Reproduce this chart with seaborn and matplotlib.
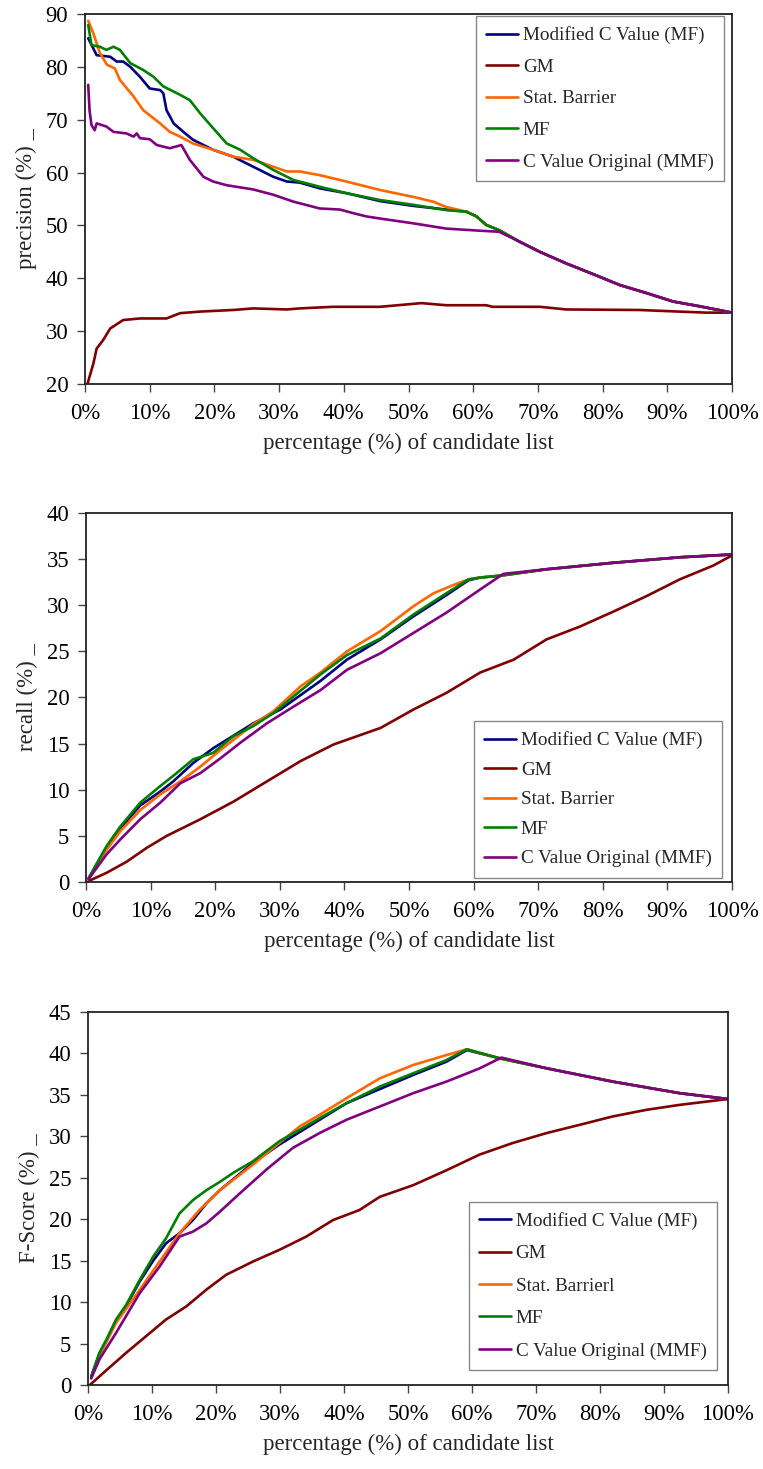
import seaborn as sns
import matplotlib.pyplot as plt
import matplotlib.ticker as mticker

# ---- data (x = % of candidate list) ----
names = ['Modified C Value (MF)', 'GM', 'Stat. Barrier', 'MF', 'C Value Original (MMF)']
colors = ['#000080', '#800000', '#FF6600', '#008000', '#800080']

# tail shared by all curves except GM after ~64% (precision)
p_tail_x = [67.2, 70.3, 74.4, 78.5, 82.7, 86.8, 90.9, 95.0, 100]
p_tail_y = [46.9, 45.0, 42.8, 40.8, 38.7, 37.2, 35.6, 34.7, 33.5]

prec_mcv_x = [0.5, 1.8, 3.9, 4.9, 5.9, 7.0, 8.5, 10.0, 11.6, 12.1, 12.6, 13.7, 15.2, 16.7, 19.8,
              22.9, 26.0, 29.1, 31.2, 33.2, 36.3, 40.4, 45.6, 50.7, 55.8, 59.0, 60.5, 62.0, 64.0] + p_tail_x
prec_mcv_y = [85.4, 82.2, 81.9, 81.0, 81.0, 80.0, 78.1, 75.9, 75.6, 75.0, 71.8, 69.3, 67.7, 66.2, 64.3,
              63.0, 61.1, 59.2, 58.3, 58.1, 57.0, 56.1, 54.6, 53.7, 53.0, 52.6, 51.7, 50.1, 49.1] + p_tail_y
prec_gm_x = [0.4, 1.3, 1.8, 2.8, 3.9, 5.9, 8.5, 12.6, 14.7, 17.8, 22.9, 26.0, 31.2, 33.2, 38.3, 45.6,
             52.0, 55.8, 62.0, 63.0, 70.3, 74.4, 85.7, 91.8, 96.0, 100]
prec_gm_y = [20.1, 23.9, 26.7, 28.3, 30.5, 32.1, 32.4, 32.4, 33.4, 33.7, 34.0, 34.3, 34.1, 34.3, 34.6, 34.6,
             35.3, 34.9, 34.9, 34.6, 34.6, 34.1, 34.0, 33.7, 33.5, 33.5]
prec_sb_x = [0.5, 1.3, 2.3, 3.4, 4.6, 5.4, 7.5, 9.0, 11.6, 13.1, 14.7, 16.7, 19.8, 22.9, 26.0, 29.1,
             31.2, 33.2, 36.3, 40.4, 45.6, 50.7, 53.8, 55.8, 58.9, 60.5, 62.0, 64.0] + p_tail_x
prec_sb_y = [88.7, 86.3, 82.6, 80.4, 79.7, 77.5, 74.4, 71.8, 69.3, 67.7, 66.8, 65.5, 64.3, 63.0, 62.4, 61.1,
             60.2, 60.2, 59.5, 58.3, 56.7, 55.4, 54.5, 53.5, 52.6, 51.7, 50.1, 49.1] + p_tail_y
prec_mf_x = [0.5, 1.0, 2.3, 3.3, 4.4, 5.4, 7.0, 9.0, 10.6, 12.1, 14.7, 16.2, 17.8, 19.8, 21.9, 24.0,
             26.0, 29.1, 32.2, 36.3, 40.4, 45.6, 50.7, 55.8, 58.9, 60.5, 62.0, 64.0] + p_tail_x
prec_mf_y = [87.9, 84.1, 83.8, 83.2, 83.8, 83.2, 80.7, 79.4, 78.1, 76.3, 74.7, 73.7, 71.2, 68.4, 65.5, 64.3,
             62.7, 60.5, 58.6, 57.3, 56.1, 54.8, 53.9, 52.9, 52.6, 51.7, 50.1, 49.1] + p_tail_y
prec_cvo_x = [0.5, 0.7, 1.0, 1.5, 1.8, 3.3, 4.4, 6.4, 7.5, 8.0, 8.5, 10.0, 11.1, 13.1, 14.9, 16.2, 18.3,
              19.8, 21.9, 26.0, 29.1, 32.2, 36.3, 39.4, 41.5, 43.5, 45.6, 50.7, 55.8, 61.0, 64.0] + p_tail_x
prec_cvo_y = [76.6, 71.8, 69.0, 68.0, 69.3, 68.7, 67.7, 67.4, 66.8, 67.4, 66.5, 66.3, 65.2, 64.6, 65.2, 62.4, 59.2,
              58.3, 57.6, 56.8, 55.8, 54.5, 53.2, 53.0, 52.3, 51.7, 51.3, 50.4, 49.4, 49.0, 48.8] + p_tail_y

# recall
r_tail_x = [71.3, 81.6, 92.0, 100]
r_tail_y = [33.9, 34.6, 35.2, 35.5]
rec_mcv_x = [0.4, 1.1, 3.2, 5.3, 8.4, 11.5, 13.5, 16.6, 19.7, 25.9, 30.1, 36.3, 40.4, 45.6, 50.7, 55.8,
             59.2, 61.0, 64.1] + r_tail_x
rec_mcv_y = [0.4, 1.2, 3.8, 5.8, 8.3, 9.8, 10.9, 12.9, 14.5, 17.2, 18.7, 21.8, 24.1, 26.3, 28.8, 31.1,
             32.7, 33.0, 33.2] + r_tail_y
rec_gm_x = [0.4, 3.2, 6.3, 9.4, 12.5, 17.7, 22.8, 28.0, 33.2, 38.3, 45.6, 50.7, 55.8, 61.0, 66.2, 71.3,
            76.5, 81.6, 86.8, 91.9, 97.1, 100]
rec_gm_y = [0.1, 1.0, 2.2, 3.7, 5.0, 6.8, 8.7, 10.9, 13.1, 14.9, 16.7, 18.7, 20.5, 22.7, 24.1, 26.3,
            27.7, 29.3, 31.0, 32.8, 34.3, 35.4]
rec_sb_x = [0.4, 1.1, 3.2, 5.3, 8.4, 11.5, 14.6, 17.7, 20.8, 25.9, 29.0, 33.2, 36.3, 40.4, 45.6, 50.7,
            53.8, 56.9, 59.2, 61.0, 64.1] + r_tail_x
rec_sb_y = [0.3, 1.1, 3.5, 5.5, 7.8, 9.5, 10.9, 12.5, 14.3, 17.1, 18.5, 21.2, 22.7, 25.0, 27.2, 29.9,
            31.3, 32.2, 32.8, 33.0, 33.2] + r_tail_y
rec_mf_x = [0.4, 1.1, 3.2, 5.3, 8.4, 11.5, 13.5, 16.6, 19.7, 22.8, 25.9, 29.0, 32.1, 36.3, 40.4, 45.6,
            50.7, 55.8, 59.2, 61.0, 64.1] + r_tail_x
rec_mf_y = [0.4, 1.3, 3.9, 6.0, 8.6, 10.4, 11.5, 13.3, 14.0, 15.8, 16.9, 18.3, 20.1, 22.5, 24.6, 26.4,
            29.0, 31.3, 32.8, 33.0, 33.2] + r_tail_y
rec_cvo_x = [0.4, 1.1, 3.2, 5.3, 8.4, 11.5, 14.6, 17.7, 20.8, 23.9, 28.0, 32.1, 36.3, 40.4, 45.6, 50.7,
             55.8, 61.0, 64.6] + r_tail_x
rec_cvo_y = [0.3, 1.0, 3.0, 4.6, 6.8, 8.6, 10.7, 11.8, 13.4, 15.1, 17.2, 19.0, 20.8, 23.0, 24.8, 27.0,
             29.2, 31.7, 33.4] + r_tail_y

# F-score
f_tail_x = [71.7, 82.0, 92.5, 100]
f_tail_y = [38.2, 36.6, 35.2, 34.5]
f_mcv_x = [0.5, 1.8, 2.9, 4.4, 6.0, 8.1, 10.2, 12.2, 14.3, 16.4, 18.5, 20.6, 25.8, 29.9, 36.2, 40.4,
           45.6, 50.8, 56.0, 59.2, 64.4] + f_tail_x
f_mcv_y = [1.0, 3.8, 5.4, 7.8, 9.6, 12.5, 15.0, 17.1, 18.3, 19.9, 21.9, 23.5, 26.8, 29.0, 32.0, 34.0,
           35.7, 37.4, 39.0, 40.4, 39.4] + f_tail_y
f_gm_x = [0.3, 2.9, 6.0, 9.1, 12.2, 15.4, 18.5, 21.6, 25.8, 29.9, 34.1, 38.3, 42.4, 45.6, 50.8, 56.0,
          61.2, 66.4, 71.7, 76.9, 82.0, 87.3, 92.5, 100]
f_gm_y = [0.0, 1.8, 3.9, 5.9, 7.9, 9.5, 11.5, 13.3, 14.9, 16.3, 17.9, 19.9, 21.1, 22.7, 24.1, 25.9,
          27.8, 29.2, 30.4, 31.4, 32.4, 33.2, 33.8, 34.5]
f_sb_x = [0.5, 1.8, 4.4, 8.1, 11.2, 14.3, 17.4, 20.6, 25.8, 29.9, 33.1, 36.2, 40.4, 45.6, 50.8, 56.0,
          59.2, 64.4] + f_tail_x
f_sb_y = [0.8, 3.5, 7.5, 11.5, 14.9, 18.3, 21.1, 23.5, 26.6, 29.2, 31.2, 32.6, 34.6, 37.0, 38.6, 39.8,
          40.5, 39.4] + f_tail_y
f_mf_x = [0.5, 1.8, 2.9, 4.4, 6.0, 8.1, 10.2, 12.2, 14.3, 16.4, 18.5, 20.6, 22.7, 25.8, 29.9, 33.1,
          36.2, 40.4, 45.6, 50.8, 56.0, 59.2, 64.4] + f_tail_x
f_mf_y = [1.0, 3.9, 5.5, 7.9, 9.7, 12.7, 15.5, 17.7, 20.7, 22.3, 23.5, 24.5, 25.6, 27.0, 29.4, 30.8,
          32.2, 34.0, 36.0, 37.6, 39.2, 40.5, 39.4] + f_tail_y
f_cvo_x = [0.5, 1.8, 4.4, 8.1, 11.2, 14.3, 16.4, 18.5, 20.6, 23.7, 27.9, 32.0, 36.2, 40.4, 45.6, 50.8,
           56.0, 61.2, 64.6] + f_tail_x
f_cvo_y = [0.8, 3.1, 6.3, 11.1, 14.3, 17.9, 18.5, 19.5, 20.9, 23.1, 26.0, 28.6, 30.4, 32.0, 33.6, 35.2,
           36.6, 38.2, 39.5] + f_tail_y

panels = [
    dict(series=[(prec_mcv_x, prec_mcv_y), (prec_gm_x, prec_gm_y), (prec_sb_x, prec_sb_y),
                 (prec_mf_x, prec_mf_y), (prec_cvo_x, prec_cvo_y)],
         labels=names, ylabel='precision (%) _', ylim=(20, 90), ystep=10,
         rect=[0.1114, 0.7386, 0.848, 0.2519], loc='upper right', anchor=(0.988, 0.995), lsp=0.74),
    dict(series=[(rec_mcv_x, rec_mcv_y), (rec_gm_x, rec_gm_y), (rec_sb_x, rec_sb_y),
                 (rec_mf_x, rec_mf_y), (rec_cvo_x, rec_cvo_y)],
         labels=names, ylabel='recall (%) _', ylim=(0, 40), ystep=5,
         rect=[0.1127, 0.3996, 0.8467, 0.2512], loc='lower right', anchor=(0.985, 0.011), lsp=0.63),
    dict(series=[(f_mcv_x, f_mcv_y), (f_gm_x, f_gm_y), (f_sb_x, f_sb_y),
                 (f_mf_x, f_mf_y), (f_cvo_x, f_cvo_y)],
         labels=['Modified C Value (MF)', 'GM', 'Stat. Barrierl', 'MF', 'C Value Original (MMF)'],
         ylabel='F-Score (%) _', ylim=(0, 45), ystep=5,
         rect=[0.1153, 0.0572, 0.8388, 0.2539], loc='lower right', anchor=(0.983, 0.04), lsp=0.78),
]

sns.set_style("white", {"xtick.bottom": True, "ytick.left": True,
                        "axes.edgecolor": "#222222", "xtick.color": "#444444", "ytick.color": "#444444"})
plt.rcParams['font.family'] = ['Liberation Serif', 'DejaVu Serif']

fig = plt.figure(figsize=(7.63, 14.69), dpi=100)

for p in panels:
    ax = fig.add_axes(p['rect'])
    for (xs, ys), lab, col in zip(p['series'], p['labels'], colors):
        sns.lineplot(x=xs, y=ys, ax=ax, color=col, label=lab, lw=1.9, sort=False, estimator=None)
    ax.set_xlim(0, 100)
    ax.set_ylim(*p['ylim'])
    ax.xaxis.set_major_locator(mticker.MultipleLocator(10))
    ax.xaxis.set_major_formatter(mticker.FuncFormatter(lambda v, pos: f'{int(v)}%'))
    ax.yaxis.set_major_locator(mticker.MultipleLocator(p['ystep']))
    ax.tick_params(axis='both', labelsize=16.3, labelcolor='black', direction='out', length=6, width=1)
    ax.tick_params(axis='x', pad=8)
    ax.tick_params(axis='y', pad=6)
    for s in ax.spines.values():
        s.set_linewidth(1.3)
    ax.set_xlabel('percentage (%) of candidate list', fontsize=16.5, labelpad=6)
    ax.set_ylabel(p['ylabel'], fontsize=16.5, labelpad=6)
    leg = ax.legend(loc=p['loc'], bbox_to_anchor=p['anchor'], fontsize=13.8, frameon=True,
                    fancybox=False, edgecolor='#888888', framealpha=1, handlelength=1.65,
                    handletextpad=0.25, labelspacing=p['lsp'], borderpad=0.55, borderaxespad=0)
    leg.get_frame().set_linewidth(1.0)

fig.savefig('out.png', dpi=100)
